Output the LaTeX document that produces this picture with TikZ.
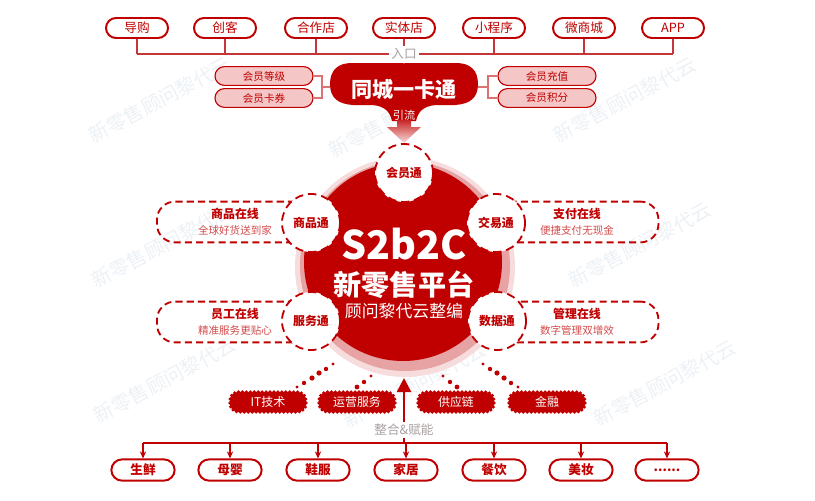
\documentclass[tikz,border=0pt]{standalone}
\usepackage{fontspec}
\setmainfont{Noto Sans CJK SC}
\usetikzlibrary{shapes.misc,arrows.meta}

\definecolor{hred}{HTML}{C00000}
\definecolor{lred}{HTML}{D24A4A}
\definecolor{linkred}{HTML}{C4363A}
\definecolor{pinkfill}{HTML}{F4C6C6}
\definecolor{ringpink}{HTML}{E7A3A3}
\definecolor{ringlight}{HTML}{F6DCDC}
\definecolor{graytxt}{HTML}{A8A0A0}
\definecolor{wmark}{HTML}{ECF1F6}

\tikzset{
  entry/.style={rounded rectangle, draw=hred, line width=1.4pt, fill=white,
    minimum width=1.55cm, minimum height=0.5cm, inner sep=0pt,
    text=hred, font=\fontsize{9}{9}\selectfont},
  cat/.style={entry, minimum width=1.58cm, minimum height=0.53cm,
    font=\fontsize{9}{9}\selectfont\bfseries},
  member/.style={rounded rectangle, draw=hred, line width=0.8pt, fill=pinkfill,
    minimum width=2.45cm, minimum height=0.47cm, inner sep=0pt,
    text=hred, font=\fontsize{7.5}{7.5}\selectfont},
  online/.style={draw=hred, line width=1.3pt, dash pattern=on 5pt off 3pt,
    rounded corners=0.45cm, minimum width=3.9cm, minimum height=1.02cm,
    align=center, text=hred, font=\fontsize{8.5}{11.5}\selectfont},
  hub/.style={circle, draw=hred, fill=white, line width=1.3pt,
    dash pattern=on 6pt off 3.5pt, minimum size=1.45cm, inner sep=0pt,
    text=hred, font=\fontsize{8.5}{8.5}\selectfont\bfseries},
  res/.style={fill=hred, draw=hred, rounded corners=6pt, text=white,
    minimum width=1.9cm, minimum height=0.5cm, inner sep=0pt,
    line width=2.6pt, dash pattern=on 0pt off 2.8pt, line cap=round,
    font=\fontsize{8.5}{8.5}\selectfont},
  link/.style={draw=linkred, line width=1.1pt},
  brace/.style={draw=hred!55, line width=0.8pt},
  feed/.style={draw=hred, line width=1.1pt, -{Stealth[length=5pt, width=4.5pt]}},
  wm/.style={text=wmark, rotate=28, font=\fontsize{14}{14}\selectfont}
}

\begin{document}
\begin{tikzpicture}[x=0.025cm, y=-0.025cm]
  \useasboundingbox (0,0) rectangle (815,500);

  % watermark
  \foreach \x/\y in {160/100, 400/115, 625/100,
                     163/245, 640/245, 165/380, 415/385, 665/383}
    \node[wm] at (\x,\y) {新零售顾问黎代云};

  % entries
  \node[entry] (guide) at (137,28) {导购};
  \node[entry] (maker) at (225,28) {创客};
  \node[entry] (partner) at (316,28) {合作店};
  \node[entry] (store) at (404,28) {实体店};
  \node[entry] (miniapp) at (494,28) {小程序};
  \node[entry] (wmall) at (584,28) {微商城};
  \node[entry] (app) at (673,28) {APP};

  \coordinate (busin) at (404,54);
  \draw[link] (guide.south |- busin) -- (app.south |- busin);
  \foreach \n in {guide,maker,partner,store,miniapp,wmall,app}
    \draw[link] (\n.south) -- (\n.south |- busin);
  \node[fill=white, inner sep=2pt, text=graytxt,
        font=\fontsize{9}{9}\selectfont] (entrance) at (404,54) {入口};

  % city card
  \fill[hred] (352,63) -- (456,63) .. controls (470,63) and (478,70) .. (478,84)
    .. controls (478,98) and (470,104) .. (455,105) -- (436,105)
    .. controls (423,106) and (418,112) .. (416,121) -- (392,121)
    .. controls (390,112) and (385,106) .. (372,105) -- (353,105)
    .. controls (338,104) and (330,98) .. (330,84)
    .. controls (330,70) and (338,63) .. (352,63) -- cycle;
  \shade[top color=hred!85, bottom color=ringlight]
    (397,120) -- (411,120) -- (411,127) -- (421,127) -- (404,143)
    -- (387,127) -- (397,127) -- cycle;
  \node[text=white, font=\fontsize{15}{15}\selectfont\bfseries] (card) at (404,89) {同城一卡通};
  \node[text=white!90!pinkfill, font=\fontsize{8}{8}\selectfont] (drain) at (404,115) {引流};
  \coordinate (cardtop) at (404,63);
  \draw[link] (entrance.south) -- (cardtop);

  \node[member] (grade) at (264,76) {会员等级};
  \node[member] (coupon) at (264,98) {会员卡券};
  \node[member] (topup) at (547,76) {会员充值};
  \node[member] (points) at (547,98) {会员积分};

  \coordinate (lbr) at (322,87);
  \coordinate (rbr) at (488,87);
  \coordinate (cardL) at (330,87);
  \coordinate (cardR) at (478,87);
  \draw[brace] (grade.east) -| (lbr) |- (coupon.east);
  \draw[brace] (lbr) -- (cardL);
  \draw[brace] (topup.west) -| (rbr) |- (points.west);
  \draw[brace] (rbr) -- (cardR);

  % online boxes
  \node[online] (goods) at (235,222) {\textbf{商品在线}\\{\color{lred}\fontsize{7.5}{11.5}\selectfont 全球好货送到家}};
  \node[online] (staff) at (235,322) {\textbf{员工在线}\\{\color{lred}\fontsize{7.5}{11.5}\selectfont 精准服务更贴心}};
  \node[online, minimum width=4.07cm] (pay) at (577,222) {\textbf{支付在线}\\{\color{lred}\fontsize{7.5}{11.5}\selectfont 便捷支付无现金}};
  \node[online, minimum width=4.07cm] (manage) at (577,322) {\textbf{管理在线}\\{\color{lred}\fontsize{7.5}{11.5}\selectfont 数字管理双增效}};

  % platform
  \fill[ringlight] (405,267) circle (110);
  \fill[ringpink] (405,266) circle (105);
  \fill[hred] (403,262) circle (99);
  \node[text=white, font=\fontsize{28}{28}\selectfont\bfseries] (brand) at (404,244) {S2b2C};
  \node[text=white, font=\fontsize{20}{20}\selectfont\bfseries] (title) at (404,285) {新零售平台};
  \node[text=white, font=\fontsize{12}{12}\selectfont] (editor) at (404,311) {顾问黎代云整编};

  \node[hub] (club) at (404,173) {会员通};
  \node[hub] (goodshub) at (311,223) {商品通};
  \node[hub] (tradehub) at (496,223) {交易通};
  \node[hub] (servehub) at (311,321) {服务通};
  \node[hub] (datahub) at (497,321) {数据通};

  % resources
  \node[res] (it) at (268,402) {IT技术};
  \node[res] (ops) at (357,402) {运营服务};
  \node[res] (supply) at (456,402) {供应链};
  \node[res] (finance) at (547,402) {金融};

  \foreach \x/\y/\r in {297/387/1.6, 304/383/2.2, 312/378/2.6, 319/373/2.6,
                        326/369/2.2, 333/364/1.7,
                        357/387/2.4, 364/382/2.2, 371/376/1.7,
                        443/376/1.7, 450/382/2.2, 457/387/2.4,
                        483/364/1.7, 490/369/2.2, 497/373/2.6, 504/378/2.6,
                        511/383/2.2, 518/387/1.6}
    \fill[hred] (\x,\y) circle (\r);

  % integration
  \node[text=graytxt, font=\fontsize{9}{9}\selectfont, inner sep=1pt] (merge) at (404,430) {整合\&赋能};
  \coordinate (tip) at (404,378);
  \coordinate (busout) at (404,443);
  \draw[hred, line width=1.8pt, -{Triangle[length=10pt, width=10pt]}] (merge.north) -- (tip);
  \draw[hred, line width=1.1pt] (busout) -- (merge.south);

  % industries
  \node[cat] (fresh) at (143,470) {生鲜};
  \node[cat] (baby) at (230,470) {母婴};
  \node[cat] (shoes) at (318,470) {鞋服};
  \node[cat] (home) at (406,470) {家居};
  \node[cat] (food) at (494,470) {餐饮};
  \node[cat] (beauty) at (581,470) {美妆};
  \node[cat] (more) at (667,470) {......};

  \draw[hred, line width=1.1pt] (fresh.north |- busout) -- (more.north |- busout);
  \foreach \n in {fresh,baby,shoes,home,food,beauty,more}
    \draw[feed] (\n.north |- busout) -- (\n.north);
\end{tikzpicture}
\end{document}
